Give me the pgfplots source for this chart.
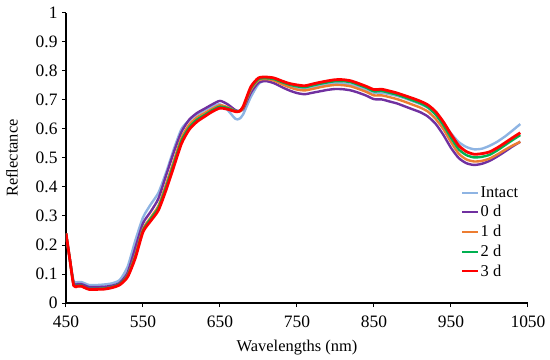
\documentclass[border=0pt]{standalone}
\usepackage{pgfplots}
\pgfplotsset{compat=1.18}
\usepackage{pgfplotstable}
\usepackage{fontspec}
\setmainfont{Liberation Serif}
\definecolor{cIntact}{RGB}{142,180,227}
\definecolor{cZero}{RGB}{112,48,160}
\definecolor{cOne}{RGB}{237,125,49}
\definecolor{cTwo}{RGB}{0,176,80}
\definecolor{cThree}{RGB}{255,0,0}
\pgfplotstableread{
x intact d0 d1 d2 d3
450 0.240 0.240 0.240 0.240 0.240
455 0.150 0.150 0.150 0.150 0.150
460 0.075 0.068 0.062 0.063 0.060
465 0.072 0.065 0.058 0.060 0.058
470 0.072 0.065 0.058 0.060 0.058
475 0.067 0.060 0.052 0.053 0.052
480 0.062 0.055 0.048 0.049 0.047
490 0.062 0.055 0.048 0.049 0.047
500 0.064 0.056 0.050 0.050 0.048
510 0.068 0.060 0.055 0.055 0.053
520 0.080 0.070 0.065 0.066 0.063
530 0.125 0.105 0.095 0.094 0.090
540 0.215 0.190 0.165 0.160 0.155
550 0.295 0.275 0.255 0.250 0.245
560 0.340 0.315 0.295 0.290 0.283
570 0.380 0.360 0.335 0.328 0.320
580 0.450 0.440 0.410 0.400 0.390
590 0.530 0.520 0.490 0.480 0.470
600 0.600 0.590 0.570 0.560 0.550
610 0.630 0.632 0.615 0.605 0.598
620 0.650 0.655 0.640 0.632 0.625
630 0.665 0.670 0.655 0.648 0.643
640 0.678 0.685 0.670 0.665 0.660
650 0.685 0.697 0.682 0.677 0.672
660 0.665 0.685 0.675 0.672 0.668
670 0.635 0.665 0.662 0.662 0.660
675 0.635 0.662 0.660 0.662 0.661
680 0.650 0.668 0.672 0.675 0.677
690 0.710 0.725 0.735 0.740 0.745
700 0.755 0.760 0.768 0.772 0.776
710 0.770 0.765 0.772 0.775 0.779
720 0.768 0.758 0.767 0.772 0.776
730 0.760 0.745 0.755 0.762 0.766
740 0.750 0.733 0.744 0.753 0.757
750 0.743 0.724 0.736 0.747 0.752
760 0.740 0.720 0.733 0.744 0.749
770 0.745 0.725 0.738 0.750 0.755
780 0.750 0.730 0.744 0.756 0.761
790 0.755 0.735 0.749 0.761 0.766
800 0.758 0.738 0.752 0.765 0.770
810 0.757 0.737 0.751 0.765 0.770
820 0.752 0.733 0.747 0.761 0.766
830 0.745 0.725 0.738 0.752 0.757
840 0.735 0.715 0.728 0.742 0.747
850 0.725 0.703 0.716 0.730 0.736
860 0.725 0.702 0.716 0.731 0.737
870 0.720 0.695 0.710 0.725 0.731
880 0.714 0.688 0.703 0.718 0.724
890 0.706 0.678 0.694 0.709 0.715
900 0.696 0.668 0.684 0.699 0.706
910 0.686 0.658 0.674 0.689 0.696
920 0.673 0.643 0.660 0.675 0.683
930 0.650 0.618 0.635 0.650 0.660
940 0.620 0.580 0.600 0.614 0.625
950 0.585 0.535 0.555 0.570 0.582
960 0.555 0.500 0.515 0.530 0.543
970 0.538 0.482 0.495 0.510 0.522
980 0.530 0.476 0.488 0.502 0.513
990 0.532 0.480 0.490 0.504 0.515
1000 0.542 0.490 0.498 0.511 0.521
1010 0.556 0.505 0.512 0.526 0.535
1020 0.574 0.522 0.528 0.544 0.552
1030 0.595 0.540 0.543 0.562 0.570
1040 0.617 0.556 0.556 0.579 0.587
}\spectra
\begin{document}
\begin{tikzpicture}
\path[use as bounding box] (-66bp,-57bp) rectangle (484bp,303bp);
\begin{axis}[
  at={(0,0)}, anchor=south west,
  scale only axis,
  width=462bp, height=290bp,
  xmin=450, xmax=1050, ymin=0, ymax=1,
  axis lines=left,
  axis line style={-, line width=1.1bp},
  xtick={450,550,...,1050},
  xticklabels={450,550,650,750,850,950,1050},
  ytick={0,0.1,...,1},
  yticklabels={0,0.1,0.2,0.3,0.4,0.5,0.6,0.7,0.8,0.9,1},
  tick align=outside,
  major tick length=4bp,
  tick style={line width=1bp, black},
  /pgf/number format/assume math mode=true,
  /pgf/number format/1000 sep={},
  ticklabel style={font=\rmfamily\fontsize{17.5}{20}\selectfont},
  yticklabel style={xshift=-1bp},
  xticklabel style={yshift=-5bp},
  label style={font=\rmfamily\fontsize{16.5}{19}\selectfont},
  xlabel={Wavelengths (nm)},
  ylabel={Reflectance},
  xlabel style={at={(axis description cs:0.5,-0.152)}, anchor=center},
  ylabel style={at={(axis description cs:-0.117,0.5)}, anchor=center},
  legend style={draw=none, fill=none, at={(392bp,120bp)}, anchor=north west,
    font=\rmfamily\fontsize{16.5}{19}\selectfont, row sep=4.5bp,
    nodes={inner xsep=1.5bp, inner ysep=1.2bp}},
  legend cell align=left,
  legend image code/.code={\draw[#1, line width=2bp] (0bp,0bp) -- (16bp,0bp);},
  every axis plot/.append style={line join=round, smooth, tension=0.4},
]
\addplot[cIntact, line width=2.4bp] table[x=x, y=intact] {\spectra};
\addlegendentry{Intact}
\addplot[cZero, line width=2.4bp] table[x=x, y=d0] {\spectra};
\addlegendentry{0 d}
\addplot[cOne, line width=2.4bp] table[x=x, y=d1] {\spectra};
\addlegendentry{1 d}
\addplot[cTwo, line width=2.4bp] table[x=x, y=d2] {\spectra};
\addlegendentry{2 d}
\addplot[cThree, line width=2.8bp] table[x=x, y=d3] {\spectra};
\addlegendentry{3 d}
\end{axis}
\end{tikzpicture}
\end{document}
